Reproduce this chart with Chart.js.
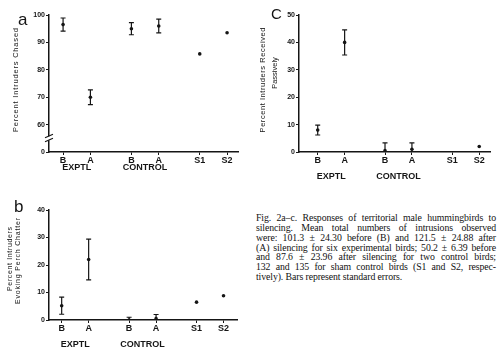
<!DOCTYPE html>
<html><head><meta charset="utf-8">
<script src="https://cdn.jsdelivr.net/npm/chart.js@4"></script>
<style>
html,body{margin:0;padding:0;background:#fff;}
body{width:500px;height:356px;position:relative;overflow:hidden;}
canvas{position:absolute;}
#cap{position:absolute;left:256px;top:213px;width:240px;font-family:'Liberation Serif','Times New Roman',serif;font-size:9.8px;line-height:9.85px;color:#111;letter-spacing:-0.1px;}
#cap div{text-align:justify;text-align-last:justify;white-space:normal;}
#cap div.last{text-align-last:left;}
</style></head>
<body>
<canvas id="ca" style="left:0;top:0"></canvas>
<canvas id="cb" style="left:0;top:180px"></canvas>
<canvas id="cc" style="left:250px;top:0"></canvas>
<div id="cap">
<div>Fig. 2a–c. Responses of territorial male hummingbirds to</div>
<div>silencing. Mean total numbers of intrusions observed</div>
<div>were: 101.3 ± 24.30 before (B) and 121.5 ± 24.88 after</div>
<div>(A) silencing for six experimental birds; 50.2 ± 6.39 before</div>
<div>and 87.6 ± 23.96 after silencing for two control birds;</div>
<div>132 and 135 for sham control birds (S1 and S2, respec-</div>
<div class="last">tively). Bars represent standard errors.</div>
</div>
<script>
// ---- data ----
const categories = ['B','A','B','A','S1','S2'];
const groups = ['EXPTL','CONTROL'];
const chasedMean = [96.5, 70, 95, 96, 85.8, 93.5];
const chasedSE   = [2.4, 2.7, 2.2, 2.5, null, null];
const chasedTickLabels = ['0','60','70','80','90','100'];
const chatterMean = [5.2, 22, 0, 0.5, 6.5, 8.8];
const chatterSE   = [3.1, 7.4, 1, 1.5, null, null];
const passiveMean = [8, 40, 0.5, 1, null, 2];
const passiveSE   = [1.8, 4.6, 2.8, 2.3, null, null];

// layout: slot of each category along the x axis (groups separated by gaps)
const xSlots = [0, 2, 5, 7, 10, 12];

const INK = '#151515';
const SANS = "'Liberation Sans', Arial, sans-serif";

const errorBars = {
  id: 'errorBars',
  afterDatasetsDraw(chart, args, opts) {
    const ctx = chart.ctx, ys = chart.scales.y, xs = chart.scales.x;
    const se = opts.se, mean = opts.mean;
    ctx.save();
    ctx.strokeStyle = INK; ctx.lineWidth = 1.2;
    mean.forEach((m, i) => {
      if (m == null || se[i] == null) return;
      const x = xs.getPixelForValue(xSlots[i]);
      const yt = ys.getPixelForValue(m + se[i]);
      const yb = ys.getPixelForValue(Math.max(ys.min, m - se[i]));
      ctx.beginPath();
      ctx.moveTo(x, yt); ctx.lineTo(x, yb);
      ctx.moveTo(x - 2.5, yt); ctx.lineTo(x + 2.5, yt);
      if (m - se[i] > ys.min) { ctx.moveTo(x - 2.5, yb); ctx.lineTo(x + 2.5, yb); }
      ctx.stroke();
    });
    ctx.restore();
  }
};

const decor = {
  id: 'decor',
  afterDraw(chart, args, o) {
    const ctx = chart.ctx, xs = chart.scales.x, ys = chart.scales.y;
    ctx.save();
    ctx.fillStyle = INK;
    // panel letter
    ctx.font = o.letterFont;
    ctx.textAlign = 'left'; ctx.textBaseline = 'alphabetic';
    ctx.fillText(o.letter, o.letterX, o.letterY);
    // y titles (rotated, spread to their printed length)
    ctx.textAlign = 'center'; ctx.textBaseline = 'middle';
    o.titles.forEach(t => {
      ctx.save();
      ctx.font = t.size + "px " + SANS;
      ctx.letterSpacing = '0px';
      const w = ctx.measureText(t.text).width;
      const sp = Math.max(0, (t.len - w) / (t.text.length - 1));
      ctx.letterSpacing = sp.toFixed(2) + 'px';
      ctx.translate(t.x, t.y);
      ctx.rotate(-Math.PI / 2);
      ctx.fillText(t.text, sp / 2, 0);
      ctx.restore();
    });
    // group labels
    ctx.font = "bold 9px " + SANS;
    ctx.textBaseline = 'middle';
    const gy = ys.bottom + o.groupDy;
    ctx.fillText(groups[0], xs.getPixelForValue((xSlots[0] + xSlots[1]) / 2), gy);
    ctx.fillText(groups[1], xs.getPixelForValue((xSlots[2] + xSlots[3]) / 2), gy);
    // axis break
    if (o.brk) {
      const x = xs.left, y = ys.getPixelForValue(o.brk);
      ctx.fillStyle = '#fff';
      ctx.fillRect(x - 2, y - 2, 4, 4);
      ctx.strokeStyle = INK; ctx.lineWidth = 1.1;
      ctx.beginPath();
      ctx.moveTo(x - 4, y - 0.5); ctx.lineTo(x + 4, y - 4);
      ctx.moveTo(x - 4, y + 3.5); ctx.lineTo(x + 4, y);
      ctx.stroke();
    }
    ctx.restore();
  }
};

function makePanel(id, W, H, area, mean, se, ymin, ymax, xmin, xmax, yLabels, deco) {
  const cv = document.getElementById(id);
  cv.width = W; cv.height = H; cv.style.width = W + 'px'; cv.style.height = H + 'px';
  const pts = mean.map((m, i) => ({ x: xSlots[i], y: m }));
  return new Chart(cv, {
    type: 'scatter',
    data: { datasets: [{ data: pts, pointRadius: 1.8, pointBackgroundColor: INK, pointBorderWidth: 0, showLine: false }] },
    options: {
      responsive: false, animation: false, devicePixelRatio: 1,
      layout: { padding: { top: area.top, right: W - area.right, left: 0, bottom: 0 } },
      plugins: { legend: { display: false }, tooltip: { enabled: false },
        errorBars: { mean, se }, decor: deco },
      scales: {
        x: {
          type: 'linear', min: xmin, max: xmax,
          afterFit(s) { s.height = H - area.bottom; },
          afterBuildTicks(s) { s.ticks = xSlots.map(v => ({ value: v })); },
          ticks: { autoSkip: false, maxRotation: 0, padding: 0, color: INK,
            font: { family: SANS, size: 9, weight: 'bold' },
            callback: (v, i) => categories[i] },
          grid: { display: true, drawOnChartArea: false, tickLength: 3, color: INK, lineWidth: 1 },
          border: { display: true, color: INK, width: 1.5 }
        },
        y: {
          min: ymin, max: ymax,
          afterFit(s) { s.width = area.left; },
          ticks: { stepSize: 10, padding: 1, color: INK,
            font: { family: SANS, size: 7, weight: 'bold' },
            callback: (v, i) => yLabels ? yLabels[i] : String(v) },
          grid: { display: true, drawOnChartArea: false, tickLength: 3, color: INK, lineWidth: 1 },
          border: { display: true, color: INK, width: 1.5 }
        }
      }
    },
    plugins: [errorBars, decor]
  });
}

makePanel('ca', 250, 180, { left: 49, top: 15, right: 238, bottom: 152 },
  chasedMean, chasedSE, 50, 100, -1.03, 12.8, chasedTickLabels,
  { letter: 'a', letterFont: "17px " + SANS, letterX: 18, letterY: 25,
    titles: [{ text: 'Percent Intruders Chased', x: 15.5, y: 80, len: 104, size: 7.5 }], groupDy: 16, brk: 55 });

makePanel('cb', 250, 176, { left: 49, top: 30, right: 237, bottom: 140 },
  chatterMean, chatterSE, 0, 40, -0.94, 13, null,
  { letter: 'b', letterFont: "17px " + SANS, letterX: 14, letterY: 32,
    titles: [{ text: 'Percent Intruders', x: 10, y: 79, len: 64, size: 7 },
             { text: 'Evoking Perch Chatter', x: 18, y: 81, len: 86, size: 7 }], groupDy: 25 });

makePanel('cc', 250, 180, { left: 49, top: 15, right: 240, bottom: 152 },
  passiveMean, passiveSE, 0, 50, -1.39, 12.8, null,
  { letter: 'C', letterFont: "15px " + SANS, letterX: 21, letterY: 19,
    titles: [{ text: 'Percent Intruders Received', x: 13, y: 80, len: 105, size: 7.5 },
             { text: 'Passively', x: 25, y: 73, len: 21, size: 7.5 }], groupDy: 25 });
</script>
</body></html>
